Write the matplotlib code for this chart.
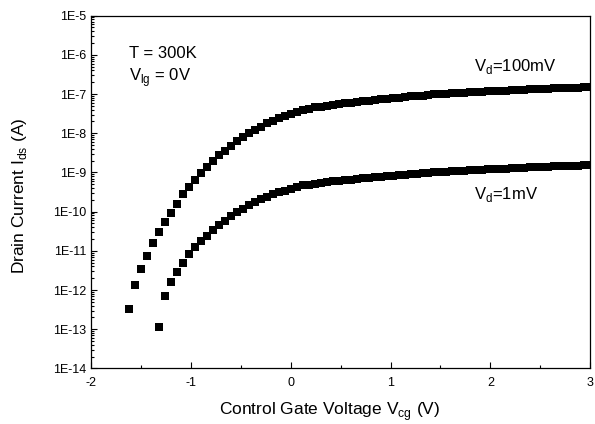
import numpy as np
import matplotlib
matplotlib.use('Agg')
import matplotlib.pyplot as plt
from matplotlib.ticker import MultipleLocator, LogLocator, FuncFormatter, NullFormatter

plt.rcParams['font.family'] = ['Liberation Sans', 'DejaVu Sans']
plt.rcParams['axes.unicode_minus'] = False

# gate sweep, 0.06 V step
vcg = np.round(np.linspace(-1.62, 3.0, 78), 2)

# log10(Ids)
log_i_100mv = [-12.49, -11.86, -11.47, -11.14, -10.81, -10.53, -10.27, -10.04,
               -9.80, -9.56, -9.36, -9.18, -9.02, -8.85, -8.71, -8.56,
               -8.45, -8.32, -8.20, -8.09, -8.00, -7.92, -7.83, -7.75,
               -7.68, -7.62, -7.56, -7.50, -7.45, -7.40, -7.37, -7.34,
               -7.32, -7.30, -7.28, -7.26, -7.24, -7.22, -7.20, -7.18,
               -7.165, -7.15, -7.13, -7.12, -7.10, -7.09, -7.08, -7.06,
               -7.05, -7.04, -7.02, -7.01, -7.00, -6.99, -6.98, -6.97,
               -6.96, -6.955, -6.95, -6.94, -6.93, -6.925, -6.92, -6.91,
               -6.905, -6.90, -6.89, -6.88, -6.875, -6.87, -6.86, -6.855,
               -6.85, -6.845, -6.84, -6.835, -6.83, -6.825]

# 1 mV curve starts at -1.32 V
log_i_1mv = [-12.95, -12.15, -11.79, -11.53, -11.32, -11.09, -10.91, -10.75,
             -10.62, -10.47, -10.34, -10.23, -10.11, -10.00, -9.92, -9.83,
             -9.76, -9.68, -9.62, -9.56, -9.51, -9.47, -9.42, -9.37,
             -9.33, -9.31, -9.29, -9.27, -9.25, -9.23, -9.21, -9.20,
             -9.18, -9.17, -9.15, -9.14, -9.12, -9.11, -9.10, -9.08,
             -9.07, -9.06, -9.04, -9.03, -9.02, -9.01, -9.00, -8.99,
             -8.98, -8.97, -8.96, -8.95, -8.945, -8.94, -8.93, -8.92,
             -8.915, -8.91, -8.90, -8.895, -8.89, -8.88, -8.87, -8.865,
             -8.86, -8.85, -8.845, -8.84, -8.835, -8.83, -8.825, -8.82,
             -8.815]

ytick_exp = [-5, -6, -7, -8, -9, -10, -11, -12, -13, -14]

fig = plt.figure(figsize=(5.95, 4.24), dpi=100)
ax = fig.add_axes([0.153, 0.131, 0.839, 0.832])

ax.plot(vcg, 10.0 ** np.array(log_i_100mv), 's', color='black', markersize=5.2,
        markeredgewidth=0)
ax.plot(vcg[-len(log_i_1mv):], 10.0 ** np.array(log_i_1mv), 's', color='black',
        markersize=5.2, markeredgewidth=0)

ax.set_yscale('log')
ax.set_xlim(-2, 3)
ax.set_ylim(1e-14, 1e-5)

ax.xaxis.set_major_locator(MultipleLocator(1))
ax.xaxis.set_minor_locator(MultipleLocator(0.5))
ax.set_yticks([10.0 ** e for e in ytick_exp])
ax.yaxis.set_major_formatter(FuncFormatter(lambda v, p: '1E%d' % round(np.log10(v))))
ax.yaxis.set_minor_locator(LogLocator(base=10, subs=np.arange(2, 10), numticks=20))
ax.yaxis.set_minor_formatter(NullFormatter())

ax.tick_params(which='both', direction='in', top=False, right=False,
               labelsize=9, width=0.8)
ax.tick_params(which='major', length=4)
ax.tick_params(which='minor', length=2)
ax.tick_params(axis='x', pad=6)
for s in ax.spines.values():
    s.set_linewidth(0.9)

ax.set_xlabel(r'Control Gate Voltage V$_\mathregular{cg}$ (V)', fontsize=12.5)
ax.set_ylabel(r'Drain Current I$_\mathregular{ds}$ (A)', fontsize=12.5)
ax.xaxis.set_label_coords(0.477, -0.09)
ax.yaxis.set_label_coords(-0.125, 0.49)

ax.text(-1.62, 8.2e-7, 'T = 300K', fontsize=12)
ax.text(-1.62, 2.15e-7, r'V$_\mathregular{lg}$ = 0V', fontsize=12)
ax.text(1.84, 3.9e-7, r'V$_\mathregular{d}$=100mV', fontsize=12)
ax.text(1.84, 2.06e-10, r'V$_\mathregular{d}$=1mV', fontsize=12)

plt.savefig('out.png', dpi=100)
